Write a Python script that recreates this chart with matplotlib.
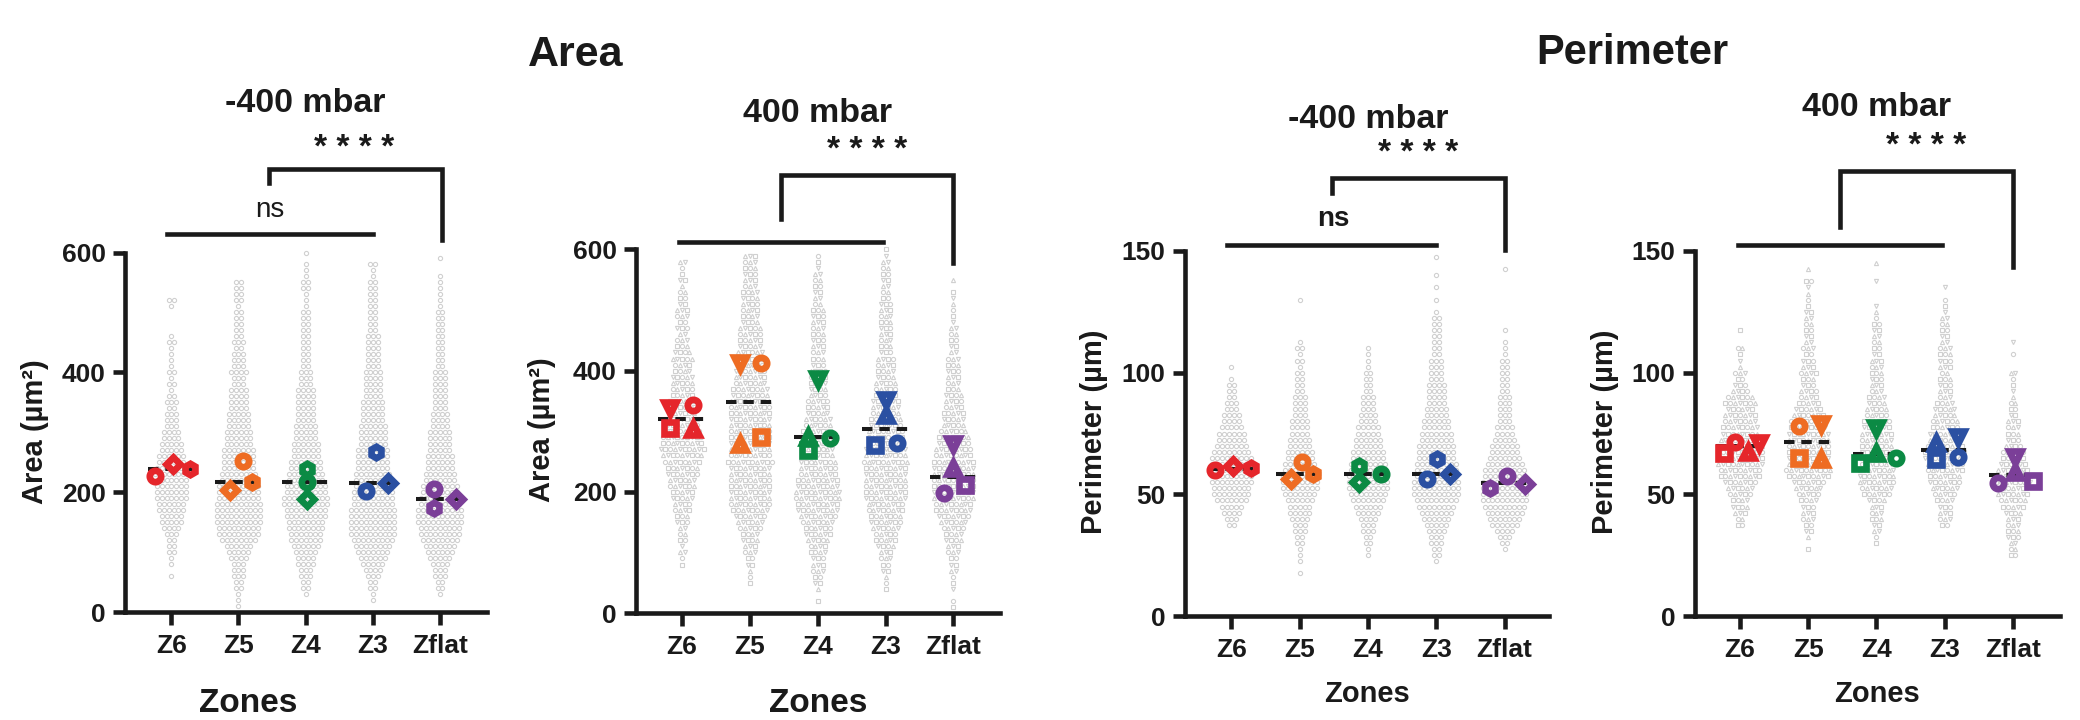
import matplotlib
matplotlib.use('Agg')
import matplotlib.pyplot as plt

plt.rcParams.update({
    'font.family': ['Liberation Sans', 'DejaVu Sans'],
    'axes.linewidth': 3.3,
    'axes.edgecolor': '#1a1a1a',
    'text.color': '#1a1a1a',
    'xtick.color': '#1a1a1a',
    'ytick.color': '#1a1a1a',
})

ZONES = ['Z6', 'Z5', 'Z4', 'Z3', 'Zflat']
COLORS = ['#e5262b', '#ee6c23', '#0b8a44', '#2b50a2', '#7b3f98']

AREA_BIN = 10
PERIM_BIN = 2.5

# grey single-cell clouds: value of first bin + number of cells per bin
AREA_NEG_START = [60, 10, 30, 20, 30]
AREA_NEG_COUNTS = [
    [1, 0, 1, 1, 2, 2, 2, 3, 4, 5, 5, 6, 6, 7, 7, 7, 7, 8, 7, 6, 6, 5, 5, 4, 4, 3, 3, 3, 2, 3,
     2, 1, 2, 1, 2, 1, 1, 1, 1, 2, 1, 0, 0, 0, 0, 1, 2],
    [1, 1, 1, 2, 2, 3, 3, 3, 4, 5, 6, 8, 9, 9, 10, 10, 10, 10, 9, 9, 9, 8, 8, 7, 7, 7, 7, 6, 6, 6,
     5, 5, 5, 4, 4, 4, 4, 3, 3, 4, 3, 3, 3, 2, 3, 2, 2, 2, 2, 2, 1, 2, 2, 2, 2],
    [1, 2, 2, 3, 3, 4, 4, 5, 6, 7, 7, 8, 8, 9, 9, 10, 10, 9, 9, 8, 8, 7, 7, 6, 6, 6, 5, 5, 5, 4,
     4, 4, 4, 4, 4, 3, 3, 3, 2, 2, 2, 2, 2, 2, 2, 2, 2, 2, 1, 1, 1, 2, 2, 1, 1, 1, 0, 1],
    [1, 1, 2, 2, 3, 4, 5, 6, 7, 8, 9, 10, 10, 10, 10, 10, 9, 9, 9, 8, 8, 8, 7, 7, 7, 7, 6, 6, 6, 6,
     5, 5, 5, 5, 4, 4, 4, 4, 4, 3, 3, 3, 3, 3, 3, 2, 2, 2, 2, 2, 2, 2, 2, 2, 1, 1, 2],
    [1, 2, 2, 3, 3, 4, 5, 6, 7, 8, 9, 9, 10, 10, 10, 9, 9, 8, 8, 7, 7, 6, 6, 6, 5, 5, 5, 5, 4, 4,
     4, 3, 3, 3, 3, 3, 3, 3, 2, 2, 2, 2, 2, 2, 2, 2, 2, 2, 1, 1, 1, 1, 1, 1, 0, 0, 1],
]
AREA_POS_START = [80, 50, 20, 40, 10]
AREA_POS_COUNTS = [
    [1, 1, 2, 1, 2, 2, 2, 3, 3, 4, 4, 5, 5, 6, 6, 7, 7, 8, 9, 10, 9, 9, 8, 7, 7, 6, 6, 6, 5, 5,
     5, 5, 4, 4, 5, 4, 3, 3, 2, 3, 2, 3, 3, 2, 2, 2, 1, 2, 1, 1, 2],
    [1, 1, 1, 2, 2, 3, 3, 4, 4, 5, 6, 7, 8, 9, 9, 9, 9, 9, 9, 9, 10, 9, 9, 9, 9, 9, 9, 9, 9, 9,
     9, 8, 8, 7, 7, 7, 6, 6, 6, 5, 5, 5, 5, 4, 4, 4, 4, 4, 4, 3, 3, 3, 3, 3, 3],
    [1, 0, 1, 2, 2, 3, 3, 3, 4, 4, 5, 6, 6, 7, 8, 9, 9, 10, 10, 9, 9, 8, 8, 8, 7, 7, 7, 7, 7, 6,
     6, 5, 5, 5, 4, 4, 4, 4, 4, 3, 3, 3, 3, 3, 3, 3, 3, 3, 3, 2, 2, 2, 2, 2, 2, 1, 1, 1],
    [1, 1, 1, 2, 2, 3, 3, 4, 5, 5, 6, 7, 7, 8, 8, 9, 9, 9, 9, 9, 9, 10, 9, 9, 8, 8, 8, 7, 7, 6,
     6, 6, 5, 5, 5, 4, 4, 4, 4, 3, 3, 3, 3, 3, 3, 3, 3, 3, 2, 2, 2, 2, 2, 2, 2, 1, 1],
    [1, 1, 0, 1, 1, 1, 2, 2, 2, 3, 3, 4, 4, 5, 6, 7, 8, 8, 9, 9, 9, 9, 9, 9, 9, 8, 8, 7, 7, 6,
     5, 5, 5, 4, 4, 4, 3, 3, 3, 3, 3, 3, 2, 2, 2, 2, 2, 1, 1, 1, 1, 1, 1, 0, 1],
]
PERIM_NEG_START = [37.5, 17.5, 25, 22.5, 27.5]
PERIM_NEG_COUNTS = [
    [2, 3, 4, 5, 7, 8, 8, 9, 9, 10, 9, 9, 8, 7, 6, 6, 5, 4, 4, 3, 3, 2, 2, 2, 1, 0, 1],
    [1, 0, 1, 1, 1, 2, 2, 3, 3, 4, 5, 5, 6, 7, 8, 8, 8, 7, 7, 6, 6, 5, 5, 4, 4, 4, 3, 3, 3, 3,
     2, 2, 2, 2, 1, 2, 1, 2, 1, 0, 0, 0, 0, 0, 0, 1],
    [1, 1, 2, 2, 3, 3, 4, 5, 6, 7, 8, 9, 9, 9, 8, 8, 7, 7, 6, 6, 5, 5, 4, 4, 3, 3, 3, 2, 2, 2,
     2, 1, 1, 1, 1],
    [1, 2, 2, 3, 3, 4, 5, 6, 7, 8, 9, 10, 10, 10, 9, 9, 9, 8, 8, 8, 7, 7, 6, 6, 5, 5, 4, 4, 4, 4,
     3, 3, 3, 3, 2, 2, 2, 2, 2, 2, 2, 1, 0, 1, 0, 1, 0, 1, 0, 0, 1],
    [1, 2, 3, 4, 6, 7, 8, 9, 10, 10, 10, 10, 9, 9, 8, 7, 6, 6, 5, 4, 4, 3, 3, 3, 3, 3, 2, 2, 2, 2,
     2, 2, 1, 1, 1, 0, 1, 0, 0, 0, 0, 0, 0, 0, 0, 0, 1],
]
PERIM_POS_START = [37.5, 27.5, 30, 37.5, 25]
PERIM_POS_COUNTS = [
    [2, 2, 3, 4, 4, 5, 6, 7, 9, 9, 10, 10, 10, 10, 9, 8, 8, 7, 7, 6, 7, 6, 4, 3, 2, 3, 1, 1, 1, 2,
     0, 0, 1],
    [1, 0, 1, 2, 2, 3, 3, 3, 4, 5, 6, 7, 9, 10, 9, 9, 9, 9, 9, 9, 8, 8, 7, 6, 5, 4, 4, 3, 3, 4,
     3, 3, 2, 3, 2, 2, 2, 2, 2, 2, 1, 1, 1, 1, 2, 0, 1],
    [1, 1, 2, 2, 3, 3, 3, 4, 6, 7, 8, 8, 8, 7, 7, 7, 7, 7, 7, 6, 6, 5, 5, 4, 4, 3, 3, 3, 3, 3,
     3, 2, 2, 2, 2, 2, 2, 1, 1, 1, 0, 0, 0, 1, 0, 0, 1],
    [2, 3, 3, 3, 4, 5, 6, 7, 7, 8, 8, 9, 9, 8, 7, 7, 6, 6, 5, 5, 4, 3, 3, 3, 3, 2, 3, 3, 3, 3,
     2, 2, 2, 2, 2, 1, 1, 1, 0, 1],
    [2, 2, 2, 3, 3, 3, 3, 4, 5, 6, 7, 7, 8, 8, 7, 6, 5, 5, 4, 3, 3, 3, 3, 2, 2, 2, 1, 1, 1, 1,
     2, 0, 0, 1, 0, 1],
]

# replicate means per zone, one value per replicate marker
# -400 mbar replicates: circle, diamond, hexagon
AREA_NEG_REP = [[227, 247, 239], [252, 204, 216.5], [216.5, 189, 239],
                [202, 215, 266.5], [205, 188, 174]]
PERIM_NEG_REP = [[60.0, 61.6, 60.7], [63.2, 56.3, 58.2], [58.2, 55.0, 61.6],
                 [56.3, 58.2, 64.4], [57.5, 54.3, 52.5]]
# 400 mbar replicates: square, circle, triangle up, triangle down
AREA_POS_REP = [[305, 343, 304, 338], [290, 412, 279, 412], [269, 289, 291, 386],
                [277, 280, 326, 352], [211, 198, 239, 279]]
PERIM_POS_REP = [[67.1, 71.6, 67.3, 71.0], [65.1, 78.1, 64.4, 78.9], [63.0, 64.8, 66.9, 77.1],
                 [64.5, 65.5, 71.0, 73.7], [55.5, 54.8, 59.0, 65.5]]

AREA_NEG_MEAN = [239, 216.5, 216.5, 215, 188]
AREA_POS_MEAN = [321, 349, 290, 303, 225]
PERIM_NEG_MEAN = [60.5, 58.2, 58.2, 58.2, 54.8]
PERIM_POS_MEAN = [69.9, 71.4, 66.5, 68.2, 58.0]

# layout: horizontal offsets of replicate markers inside each zone
NEG_SHAPES = ['o', 'D', 'h']
POS_SHAPES = ['s', 'o', '^', 'v']
AREA_NEG_DX = [[-0.24, 0.03, 0.28], [0.07, -0.12, 0.2], [0.02, 0.02, 0.02],
               [-0.1, 0.22, 0.05], [-0.09, 0.24, -0.09]]
AREA_POS_DX = [[-0.18, 0.16, 0.16, -0.18], [0.17, 0.17, -0.15, -0.15], [-0.15, 0.18, -0.15, 0.0],
               [-0.16, 0.17, 0.0, 0.0], [0.18, -0.14, 0.0, 0.0]]
PERIM_NEG_DX = [[-0.24, 0.02, 0.28], [0.03, -0.13, 0.19], [0.19, -0.13, -0.13],
                [-0.13, 0.2, 0.01], [0.03, 0.3, -0.22]]
PERIM_POS_DX = [[-0.23, -0.07, 0.11, 0.28], [-0.13, -0.13, 0.19, 0.19], [-0.24, 0.29, 0.0, 0.0],
                [-0.13, 0.19, -0.13, 0.19], [0.29, -0.22, 0.03, 0.03]]

DX = 0.071
W, H = 2080, 720
INK = '#1a1a1a'

PANELS = [
    dict(rect=[0.0601, 0.15, 0.174, 0.4993], xlim=(-0.69, 4.7), ytop=600, yticks=[0, 200, 400, 600],
         start=AREA_NEG_START, counts=AREA_NEG_COUNTS, binw=AREA_BIN, grey=['o'],
         rep=AREA_NEG_REP, dx=AREA_NEG_DX, shapes=NEG_SHAPES, mean=AREA_NEG_MEAN,
         title='-400 mbar', title_y=848, stars=(2.72, 773), bracket=(1.45, 4.03, 740, 716, 621),
         line=(-0.06, 3.0, 631), ns=(1.46, 671, 'normal'),
         ylabel='Area (µm²)', ylab_xy=(35, 432), zones=(248, 703, 24)),
    dict(rect=[0.3058, 0.1486, 0.175, 0.5049], xlim=(-0.68, 4.69), ytop=600, yticks=[0, 200, 400, 600],
         start=AREA_POS_START, counts=AREA_POS_COUNTS, binw=AREA_BIN, grey=POS_SHAPES,
         rep=AREA_POS_REP, dx=AREA_POS_DX, shapes=POS_SHAPES, mean=AREA_POS_MEAN,
         title='400 mbar', title_y=825, stars=(2.73, 763), bracket=(1.46, 4.0, 723, 650, 578),
         line=(-0.04, 2.97, 612), ns=None,
         ylabel='Area (µm²)', ylab_xy=(542, 430), zones=(818, 703, 24)),
    dict(rect=[0.5697, 0.1444, 0.175, 0.507], xlim=(-0.68, 4.65), ytop=150, yticks=[0, 50, 100, 150],
         start=PERIM_NEG_START, counts=PERIM_NEG_COUNTS, binw=PERIM_BIN, grey=['o'],
         rep=PERIM_NEG_REP, dx=PERIM_NEG_DX, shapes=NEG_SHAPES, mean=PERIM_NEG_MEAN,
         title='-400 mbar', title_y=204, stars=(2.74, 190), bracket=(1.47, 4.0, 180, 174, 150.6),
         line=(-0.06, 2.99, 152.5), ns=(1.49, 163, 'bold'),
         ylabel='Perimeter (µm)', ylab_xy=(1094, 432), zones=(1367, 694.5, 21)),
    dict(rect=[0.8149, 0.1444, 0.1755, 0.507], xlim=(-0.66, 4.69), ytop=150, yticks=[0, 50, 100, 150],
         start=PERIM_POS_START, counts=PERIM_POS_COUNTS, binw=PERIM_BIN, grey=POS_SHAPES,
         rep=PERIM_POS_REP, dx=PERIM_POS_DX, shapes=POS_SHAPES, mean=PERIM_POS_MEAN,
         title='400 mbar', title_y=209, stars=(2.73, 193), bracket=(1.47, 4.0, 183, 160, 143.5),
         line=(-0.03, 2.96, 152.5), ns=None,
         ylabel='Perimeter (µm)', ylab_xy=(1605, 432), zones=(1877, 694.5, 21)),
]


def draw_cloud(ax, p):
    # beeswarm-like rows: every bin is one row of cells centred on the zone
    pts = {m: ([], []) for m in p['grey']}
    for zi in range(len(ZONES)):
        for k, n in enumerate(p['counts'][zi]):
            yv = p['start'][zi] + k * p['binw']
            for i in range(n):
                m = p['grey'][(i + k) % len(p['grey'])]
                pts[m][0].append(zi + (i - (n - 1) / 2) * DX)
                pts[m][1].append(yv)
    for m, (xs, ys) in pts.items():
        ax.plot(xs, ys, ls='none', marker=m, ms=3.0, mfc='none', mec='#d0d0d0',
                mew=0.8, zorder=1, clip_on=False)


def draw_panel(fig, p):
    ax = fig.add_axes(p['rect'])
    draw_cloud(ax, p)

    for zi in range(len(ZONES)):
        ax.plot([zi - 0.35, zi + 0.35], [p['mean'][zi]] * 2, color=INK, lw=2.9,
                dashes=(2.6, 1.7), zorder=3)
        for j, v in enumerate(p['rep'][zi]):
            ax.plot(zi + p['dx'][zi][j], v, ls='none', marker=p['shapes'][j],
                    ms=8.2 if p['shapes'][j] != 'D' else 7.2, mfc='none',
                    mec=COLORS[zi], mew=4.8, zorder=4, clip_on=False)

    ax.set_xlim(*p['xlim'])
    ax.set_ylim(0, p['ytop'])
    ax.set_yticks(p['yticks'])
    ax.set_xticks(range(len(ZONES)))
    ax.set_xticklabels(ZONES)
    for s in ['top', 'right']:
        ax.spines[s].set_visible(False)
    for s in ['left', 'bottom']:
        ax.spines[s].set_capstyle('projecting')
    ax.tick_params(axis='both', length=9, width=3.3, labelsize=19, pad=5)
    ax.tick_params(axis='x', pad=7)
    for lab in ax.get_xticklabels() + ax.get_yticklabels():
        lab.set_fontweight('bold')

    ax.text(2.0, p['title_y'], p['title'], ha='center', va='center',
            fontsize=24.5, fontweight='bold')
    ax.text(p['stars'][0], p['stars'][1], '* * * *', ha='center', va='center',
            fontsize=24, fontweight='bold')
    x0, x1, yb, yl, yr = p['bracket']
    ax.plot([x0, x0, x1, x1], [yl, yb, yb, yr], color=INK, lw=3.3,
            solid_joinstyle='miter', clip_on=False)
    lx0, lx1, ly = p['line']
    ax.plot([lx0, lx1], [ly, ly], color=INK, lw=3.3, clip_on=False)
    if p['ns'] is not None:
        ax.text(p['ns'][0], p['ns'][1], 'ns', ha='center', va='center',
                fontsize=20, fontweight=p['ns'][2])

    fig.text(p['ylab_xy'][0] / W, 1 - p['ylab_xy'][1] / H, p['ylabel'],
             rotation=90, ha='center', va='center', fontsize=21, fontweight='bold')
    zx, zy, zs = p['zones']
    fig.text(zx / W, 1 - zy / H, 'Zones', ha='center', va='center',
             fontsize=zs, fontweight='bold')
    return ax


fig = plt.figure(figsize=(W / 100, H / 100), dpi=100)
for p in PANELS:
    draw_panel(fig, p)

fig.text(576 / W, 1 - 66 / H, 'Area', ha='center', va='baseline',
         fontsize=31, fontweight='bold')
fig.text(1632 / W, 1 - 64 / H, 'Perimeter', ha='center', va='baseline',
         fontsize=30, fontweight='bold')

fig.savefig('out.png', dpi=100, facecolor='white')
